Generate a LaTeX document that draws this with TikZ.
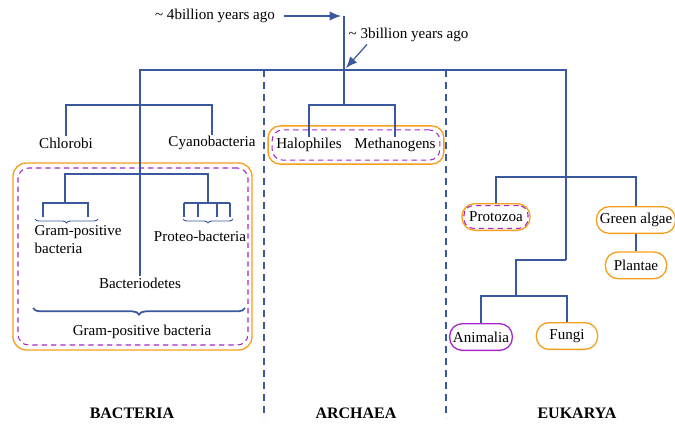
\documentclass[tikz,border=0pt]{standalone}
\usepackage{fontspec}
\setmainfont{Liberation Serif}
\usetikzlibrary{arrows.meta, positioning, calc, fit, decorations.pathreplacing}

\definecolor{treeblue}{RGB}{58,88,158}
\definecolor{boxorange}{RGB}{247,158,30}
\definecolor{boxpurple}{RGB}{165,40,205}

\begin{document}
\begin{tikzpicture}[
    x=0.75pt, y=-0.75pt,
    font=\fontsize{11.3}{13.6}\selectfont,
    branch/.style={draw=treeblue, line width=0.9pt},
    divider/.style={draw=treeblue, line width=0.8pt, dash pattern=on 5pt off 4pt},
    arrow/.style={-{Latex[length=8.5pt,width=7pt]}, draw=treeblue, line width=0.9pt, fill=treeblue},
    taxon/.style={inner sep=1pt, align=center},
    pill/.style={draw=boxorange, line width=1pt, rounded corners=9.5pt, minimum height=20pt, minimum width=46pt, inner xsep=2.5pt, inner ysep=2pt},
    groupbox/.style={draw=boxorange, line width=1pt, rounded corners=10pt, inner sep=0pt},
    dashbox/.style={draw=boxpurple, line width=0.8pt, dash pattern=on 4pt off 3pt, rounded corners=8pt, inner sep=0pt},
    ubrace/.style={draw=treeblue, line width=0.7pt, decorate, decoration={brace, mirror, amplitude=3pt}},
    bigbrace/.style={draw=treeblue, line width=1.3pt, decorate, decoration={brace, mirror, amplitude=5pt}},
    domainlabel/.style={font=\fontsize{12}{14}\selectfont\bfseries}
]
\useasboundingbox (0,0) rectangle (675,425);

% Time marks
\coordinate (origin) at (344,16);
\coordinate (split) at (344,70);
\coordinate (archjoin) at (344,105);
\node[taxon] (bil4) at (215,16) {\textasciitilde{} 4billion years ago};
\node[taxon, anchor=west] (bil3) at (347,35) {\textasciitilde{} 3billion years ago};

% Bacteria
\node[taxon] (chlorobi) at (66,143) {Chlorobi};
\node[taxon] (cyano) at (212,143) {Cyanobacteria};
\coordinate (bactjoin) at (137,105);
\node[taxon, anchor=north west, align=left] (grampos) at (33,224) {Gram-positive\\bacteria};
\node[taxon] (proteo) at (200,236) {Proteo-bacteria};
\node[taxon] (bacteriodetes) at (140,283) {Bacteriodetes};
\node[taxon] (gramall) at (142,332) {Gram-positive bacteria};
\coordinate (gp) at (65,203);
\coordinate (pb) at (208,203);
\coordinate (boxtl) at (13,163);
\coordinate (boxbr) at (252,350);
\coordinate (dashtl) at (18,168);
\coordinate (dashbr) at (248,345);
\node[groupbox, fit=(boxtl) (boxbr)] (bactbox) {};
\node[dashbox, fit=(dashtl) (dashbr)] (bactdash) {};

% Archaea
\node[taxon] (halo) at (309,145) {Halophiles};
\node[taxon] (methano) at (395,145) {Methanogens};
\node[groupbox, rounded corners=9pt, fit=(halo) (methano), inner xsep=5pt, inner ysep=8pt] (archbox) {};
\node[dashbox, fit=(halo) (methano), inner xsep=2pt, inner ysep=5pt] (archdash) {};

% Eukarya
\coordinate (plantjoin) at (566,177);
\coordinate (eukjoin) at (566,260);
\coordinate (animalfungi) at (516,296);
\node[pill, minimum width=51pt] (protozoa) at (496,217) {Protozoa};
\node[dashbox, rounded corners=7pt, fit=(protozoa), inner sep=-2pt] (protodash) {};
\node[pill] (greenalgae) at (636,220) {Green algae};
\node[pill, below=13pt of greenalgae] (plantae) {Plantae};
\node[pill, draw=boxpurple] (animalia) at (481,337) {Animalia};
\node[pill] (fungi) at (567,336) {Fungi};

% Domain labels
\node[domainlabel] (bacteria) at (132,413) {BACTERIA};
\node[domainlabel] (archaea) at (356,413) {ARCHAEA};
\node[domainlabel] (eukarya) at (577,413) {EUKARYA};

% Dividers
\draw[divider] (264,70) -- (264,418);
\draw[divider] (446,70) -- (446,418);

% Tree
\draw[branch] (origin) -- (archjoin);
\draw[branch] (bacteriodetes.north) |- (split) -| (eukjoin);
\draw[branch] (chlorobi.north) |- (bactjoin) -| (cyano.north);
\draw[branch] (gp) -- ++(0,-29) -| (pb);
\draw[branch] ($(gp)+(-22,14)$) |- ($(gp)+(23,0)$) -- ++(0,14);
\draw[branch] ($(pb)+(-24,0)$) -- ++(46,0);
\foreach \dx in {-24,-10,9,22}
  \draw[branch] ($(pb)+(\dx,0)$) -- ++(0,14);
\draw[branch] (halo.north) |- (archjoin) -| (methano.north);
\draw[branch] (protozoa.north) |- (plantjoin) -| (greenalgae.north);
\draw[branch] (greenalgae) -- (plantae);
\draw[branch] (eukjoin) -| (animalfungi);
\draw[branch] (animalia.north) |- (animalfungi) -| (fungi.north);

% Braces
\draw[ubrace] (35,219) -- (98,219);
\draw[ubrace] (183,219) -- (233,219);
\draw[bigbrace] (33,308) -- (245,308);

% Arrows
\draw[arrow] ($(bil4.east)+(7,0)$) -- ($(origin)+(-3,0)$);
\draw[arrow] ($(bil3.south west)+(20,1)$) -- ($(split)+(2,-2)$);

\end{tikzpicture}
\end{document}
